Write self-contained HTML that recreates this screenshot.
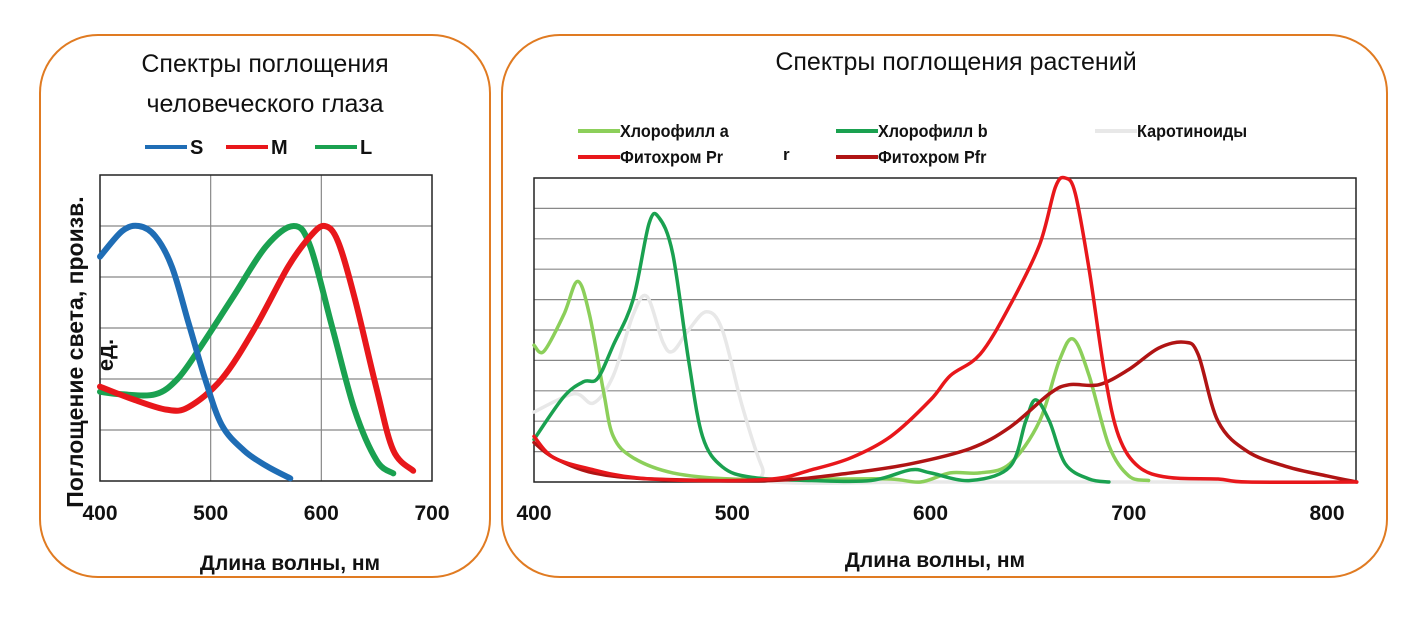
<!DOCTYPE html>
<html><head><meta charset="utf-8">
<style>
html,body{margin:0;padding:0;background:#fff;}
body{width:1426px;height:616px;overflow:hidden;font-family:"Liberation Sans",sans-serif;}
svg text{font-family:"Liberation Sans",sans-serif;}
</style></head>
<body>
<svg id="svg" width="1426" height="616" xmlns="http://www.w3.org/2000/svg">
<rect x="40" y="35" width="450" height="542" rx="58" fill="#fff" stroke="#e07b22" stroke-width="2"/>
<rect x="502" y="35" width="885" height="542" rx="58" fill="#fff" stroke="#e07b22" stroke-width="2"/>
<text x="265" y="72" font-size="25" text-anchor="middle" fill="#111">Спектры поглощения</text>
<text x="265" y="112" font-size="25" text-anchor="middle" fill="#111">человеческого глаза</text>
<text x="956" y="70" font-size="25" text-anchor="middle" fill="#111">Спектры поглощения растений</text>
<g id="left"></g>
<g id="right"></g>
</svg>
<script>
const NS="http://www.w3.org/2000/svg";
// ---- Left chart data ----
const eyeXTicks=[400,500,600,700];
const sX=[400,420,435,450,465,480,495,510,530,550,572];
const sY=[4.4,4.9,5.0,4.8,4.2,3.1,2.0,1.1,0.6,0.3,0.05];
const mX=[400,430,460,480,510,540,570,590,603,615,630,650,665,683];
const mY=[1.85,1.6,1.4,1.45,2.0,3.0,4.2,4.8,5.0,4.7,3.6,1.8,0.6,0.2];
const lX=[400,420,450,470,490,520,550,575,590,610,630,650,665];
const lY=[1.75,1.7,1.7,2.0,2.6,3.6,4.6,5.0,4.6,3.0,1.4,0.4,0.15];
// ---- Right chart data ----
const plantXTicks=[400,500,600,700,800];
const chlaX=[400,405,415,422,428,435,440,450,470,500,550,580,595,610,625,640,655,665,672,680,690,700,710];
const chlaY=[4.5,4.3,5.5,6.6,5.5,3,1.5,0.8,0.3,0.1,0.1,0.1,0.0,0.3,0.3,0.6,2,4,4.7,3.5,1.2,0.2,0.05];
const chlbX=[400,415,425,432,440,450,458,463,470,478,485,495,510,540,570,590,600,620,640,648,653,660,668,680,690];
const chlbY=[1.4,2.8,3.3,3.4,4.5,6,8.5,8.7,7.5,4,1.5,0.5,0.15,0.05,0.05,0.4,0.3,0.05,0.5,2,2.7,2,0.6,0.1,0];
const carX=[400,420,430,440,450,457,465,470,478,487,495,505,515,522,600,700,815];
const carY=[2.3,2.9,2.6,3.5,5.5,6.1,4.6,4.3,5,5.6,5,2.5,0.5,0,0,0,0];
const prX=[400,410,430,450,480,520,540,560,580,600,610,625,640,655,663,668,673,680,688,695,705,720,745,760,815];
const prY=[1.5,0.8,0.4,0.15,0.05,0.1,0.4,0.8,1.5,2.7,3.5,4.2,5.8,7.8,9.7,10,9.5,7,3.5,1.5,0.5,0.15,0.1,0,0];
const pfrX=[400,410,430,460,520,560,590,620,640,660,670,685,700,715,728,735,745,760,780,800,815];
const pfrY=[1.3,0.8,0.3,0.1,0.05,0.3,0.6,1.1,1.8,2.9,3.2,3.2,3.7,4.4,4.6,4.2,2,1.0,0.5,0.2,0];

function el(tag,attrs,parent){const e=document.createElementNS(NS,tag);for(const k in attrs)e.setAttribute(k,attrs[k]);parent.appendChild(e);return e;}
function smooth(pts){let d="M"+pts[0][0].toFixed(1)+","+pts[0][1].toFixed(1);
 for(let i=0;i<pts.length-1;i++){const p0=pts[i-1]||pts[i],p1=pts[i],p2=pts[i+1],p3=pts[i+2]||p2;
  const c1x=p1[0]+(p2[0]-p0[0])/6,c1y=p1[1]+(p2[1]-p0[1])/6,c2x=p2[0]-(p3[0]-p1[0])/6,c2y=p2[1]-(p3[1]-p1[1])/6;
  d+=` C${c1x.toFixed(1)},${c1y.toFixed(1)} ${c2x.toFixed(1)},${c2y.toFixed(1)} ${p2[0].toFixed(1)},${p2[1].toFixed(1)}`;}
 return d;}

// Left chart
const L=document.getElementById('left');
const lx=v=>100+(v-400)*(332/300), ly=v=>481-v*51;
for(let i=1;i<=5;i++){const g=el('line',{x1:100,x2:432,y1:ly(i),y2:ly(i),stroke:'#888','stroke-width':1.2},L);
 
 }
eyeXTicks.slice(1,3).forEach(t=>{const g=el('line',{x1:lx(t),x2:lx(t),y1:175,y2:481,stroke:'#888','stroke-width':1.2},L);
 
 });
const lf=el('rect',{x:100,y:175,width:332,height:306,fill:'none',stroke:'#222','stroke-width':1.5},L);


[[lX,lY,'#1aa150','curve-l'],[mX,mY,'#e8171b','curve-m'],[sX,sY,'#1f6db5','curve-s']].forEach(([xs,ys,c,n])=>{
 const p=el('path',{d:smooth(xs.map((x,i)=>[lx(x),ly(ys[i])])),fill:'none',stroke:c,'stroke-width':6,'stroke-linecap':'round'},L);
 
 });
eyeXTicks.forEach(t=>{const tx=el('text',{x:lx(t),y:520,'font-size':21,'font-weight':'bold','text-anchor':'middle',fill:'#111'},L);tx.textContent=t;
 
 });
const lxt=el('text',{x:290,y:570,'font-size':21,'font-weight':'bold','text-anchor':'middle',fill:'#111'},L);lxt.textContent='Длина волны, нм';


const ly1=el('text',{transform:'translate(83,352) rotate(-90)','font-size':23,'font-weight':'bold','text-anchor':'middle',fill:'#111'},L);ly1.textContent='Поглощение света, произв.';


const ly2=el('text',{transform:'translate(113,355) rotate(-90)','font-size':22,'font-weight':'bold','text-anchor':'middle',fill:'#111'},L);ly2.textContent='ед.';


const eyeLegend=[['S','#1f6db5',145],['M','#e8171b',226],['L','#1aa150',315]];
eyeLegend.forEach(([n,c,x])=>{const g=el('g',{},L);
 
 
 el('line',{x1:x,x2:x+42,y1:147,y2:147,stroke:c,'stroke-width':4},g);
 const t=el('text',{x:x+45,y:154,'font-size':20,'font-weight':'bold',fill:'#111'},g);t.textContent=n;});

// Right chart
const R=document.getElementById('right');
const rx=v=>534+(v-400)*1.9825, ry=v=>482-v*30.4;
for(let i=1;i<=9;i++){const g=el('line',{x1:534,x2:1356,y1:ry(i),y2:ry(i),stroke:'#888','stroke-width':1.2},R);
 
 }
const rf=el('rect',{x:534,y:178,width:822,height:304,fill:'none',stroke:'#222','stroke-width':1.5},R);


const series=[[carX,carY,'#e8e8e8','carotenoids-line'],[chlaX,chlaY,'#8ccf5a','chlorophyll-a-line'],[chlbX,chlbY,'#1aa150','chlorophyll-b-line'],[pfrX,pfrY,'#b01414','phytochrome-pfr-line'],[prX,prY,'#e8171b','phytochrome-pr-line']];
series.forEach(([xs,ys,c,n])=>{
 const p=el('path',{d:smooth(xs.map((x,i)=>[rx(x),ry(ys[i])])),fill:'none',stroke:c,'stroke-width':3.5,'stroke-linecap':'round'},R);
 
 });
plantXTicks.forEach(t=>{const tx=el('text',{x:rx(t),y:520,'font-size':21,'font-weight':'bold','text-anchor':'middle',fill:'#111'},R);tx.textContent=t;
 
 });
const rxt=el('text',{x:935,y:567,'font-size':21,'font-weight':'bold','text-anchor':'middle',fill:'#111'},R);rxt.textContent='Длина волны, нм';


const plantLegend=[['Хлорофилл a','#8ccf5a',578,131],['Хлорофилл b','#1aa150',836,131],['Каротиноиды','#e8e8e8',1095,131],['Фитохром Pr','#e8171b',578,157],['Фитохром Pfr','#b01414',836,157]];
plantLegend.forEach(([n,c,x,y])=>{const g=el('g',{},R);
 
 
 el('line',{x1:x,x2:x+42,y1:y,y2:y,stroke:c,'stroke-width':4},g);
 const t=el('text',{x:x+42,y:y+6,'font-size':18,'font-weight':'bold',fill:'#111',transform:`translate(${(x+42)*0.1},0) scale(0.9,1)`},g);t.textContent=n;});
const stray=el('text',{x:783,y:160,'font-size':17,'font-weight':'bold',fill:'#111'},R);stray.textContent='r';


</script>
</body></html>
